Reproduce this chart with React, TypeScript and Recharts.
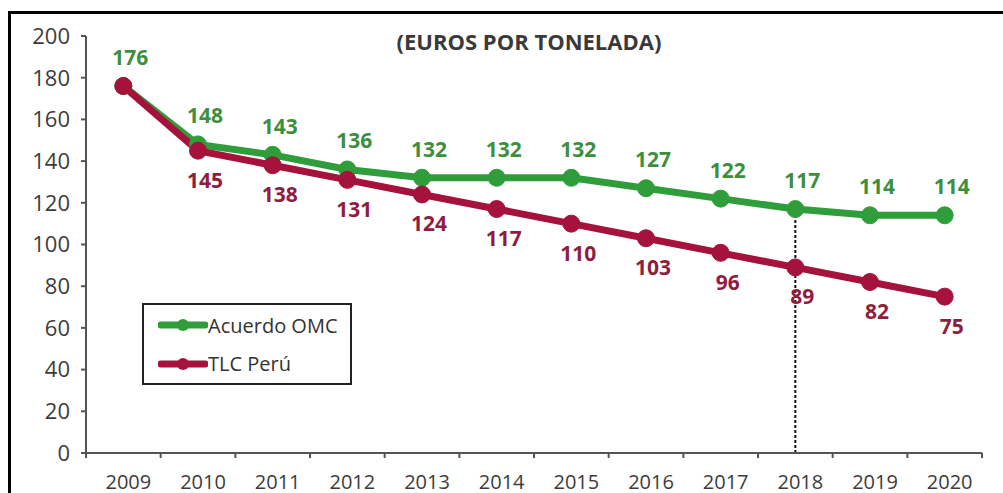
import React from 'react';
import { LineChart, Line, XAxis, YAxis, ReferenceLine, Legend, LabelList } from 'recharts';

const years = ['2009', '2010', '2011', '2012', '2013', '2014', '2015', '2016', '2017', '2018', '2019', '2020'];
const acuerdoOmc = [176, 148, 143, 136, 132, 132, 132, 127, 122, 117, 114, 114];
const tlcPeru = [176, 145, 138, 131, 124, 117, 110, 103, 96, 89, 82, 75];
const yTicks = [0, 20, 40, 60, 80, 100, 120, 140, 160, 180, 200];
const markerYear = '2018';
const title = '(EUROS POR TONELADA)';

const GREEN = '#2f9e3a';
const GREEN_TXT = '#3d8f3d';
const RED = '#a5123c';
const RED_TXT = '#8e1d3e';
const AXIS = '#555';
const FONT = '"Open Sans", sans-serif';

const data = years.map((year, i) => ({ year, omc: acuerdoOmc[i], peru: tlcPeru[i] }));
const markerValue = acuerdoOmc[years.indexOf(markerYear)];

const YearTick = (props: any) => {
  const { x, y, payload, index, visibleTicksCount } = props;
  const half = payload.offset || 0;
  return (
    <g>
      <line x1={x - half} x2={x - half} y1={y} y2={y + 5} stroke={AXIS} strokeWidth={2} />
      {index === visibleTicksCount - 1 && (
        <line x1={x + half} x2={x + half} y1={y} y2={y + 5} stroke={AXIS} strokeWidth={2} />
      )}
      <text x={x + 5} y={y + 28} textAnchor="middle" dominantBaseline="central" fill="#3c3c3c" fontSize={20} fontFamily={FONT}>
        {payload.value}
      </text>
    </g>
  );
};

const valueLabel = (color: string, dy: number, other?: number[]) => (props: any) => {
  const { x, y, value, index } = props;
  if (other && other[index] === value) return null;
  return (
    <text x={x + 7} y={y + dy} textAnchor="middle" dominantBaseline="central" fill={color} fontSize={21} fontWeight={700} fontFamily={FONT}>
      {value}
    </text>
  );
};

const LegendBox = (props: any) => {
  const items = props.payload || [];
  return (
    <div style={{ width: 206, height: 78, border: '2px solid #222', background: '#fff', boxSizing: 'content-box', fontFamily: FONT }}>
      {items.map((it: any, i: number) => (
        <div key={i} style={{ display: 'flex', alignItems: 'center', height: 39, paddingLeft: 14 }}>
          <svg width={50} height={14}>
            <line x1={3} x2={47} y1={7} y2={7} stroke={it.color} strokeWidth={7} strokeLinecap="round" />
            <circle cx={25} cy={7} r={6} fill={it.color} />
          </svg>
          <span style={{ fontSize: 20, color: '#333', marginTop: i === 0 ? 2 : 0 }}>{it.value}</span>
        </div>
      ))}
    </div>
  );
};

export default function App() {
  return (
    <div style={{ position: 'absolute', left: 0, top: 0, width: 1003, height: 493, overflow: 'hidden', background: '#fff' }}>
      <div style={{ position: 'absolute', left: 8, top: 11, width: 1100, height: 600, borderLeft: '3px solid #000', borderTop: '3px solid #000' }} />
      <div style={{ position: 'absolute', left: 0, top: 26, width: 1058, textAlign: 'center', fontFamily: FONT, fontWeight: 700, fontSize: 22, color: '#3a3a3a' }}>
        {title}
      </div>
      <div style={{ position: 'absolute', left: 0, top: 0 }}>
        <LineChart width={1003} height={493} data={data} margin={{ top: 36, right: 21, bottom: 10, left: 26 }}>
          <XAxis
            dataKey="year"
            scale="band"
            height={30}
            tickLine={false}
            tickSize={0}
            tickMargin={0}
            axisLine={{ stroke: AXIS, strokeWidth: 2 }}
            tick={<YearTick />}
            interval={0}
          />
          <YAxis
            width={60}
            domain={[0, 200]}
            ticks={yTicks}
            tickSize={5}
            tickMargin={11}
            axisLine={{ stroke: AXIS, strokeWidth: 2 }}
            tickLine={{ stroke: AXIS, strokeWidth: 2 }}
            tick={{ fill: '#3c3c3c', fontSize: 22, fontFamily: FONT }}
          />
          <Legend
            layout="horizontal"
            verticalAlign="middle"
            align="center"
            wrapperStyle={{ left: 142, top: 303, width: 'auto' }}
            content={<LegendBox />}
          />
          <Line name="Acuerdo OMC" dataKey="omc" stroke={GREEN} strokeWidth={7} isAnimationActive={false}
            dot={{ r: 8.5, fill: GREEN, stroke: GREEN, strokeWidth: 1 }} activeDot={false}>
            <LabelList dataKey="omc" content={valueLabel(GREEN_TXT, -29)} />
          </Line>
          <Line name="TLC Perú" dataKey="peru" stroke={RED} strokeWidth={7} isAnimationActive={false}
            dot={{ r: 8.5, fill: RED, stroke: RED, strokeWidth: 1 }} activeDot={false}>
            <LabelList dataKey="peru" content={valueLabel(RED_TXT, 29, acuerdoOmc)} />
          </Line>
          <ReferenceLine
            segment={[{ x: markerYear, y: 0 }, { x: markerYear, y: markerValue }]}
            stroke="#111"
            strokeWidth={2}
            strokeDasharray="3 2"
          />
        </LineChart>
      </div>
    </div>
  );
}
